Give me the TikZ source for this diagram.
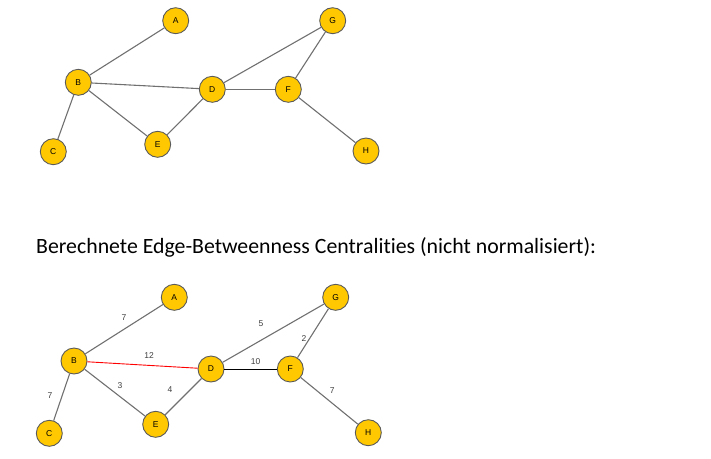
\documentclass[tikz,border=0pt]{standalone}
\usepackage{fontspec}
\setmainfont{Carlito}[Ligatures={NoCommon}]
\newfontfamily\arialfont{Liberation Sans}
\definecolor{nodefill}{HTML}{FFC800}
\definecolor{nodeline}{HTML}{5A5A5A}
\definecolor{edgegray}{HTML}{707070}
\definecolor{labgray}{HTML}{404040}
\begin{document}
\begin{tikzpicture}[x=1pt,y=-1pt,
  vtx/.style={circle,draw=nodeline,line width=0.9pt,fill=nodefill,minimum size=26pt,inner sep=0pt,font=\arialfont\fontsize{8.5}{8.5}\selectfont},
  edg/.style={draw=edgegray,line width=1.1pt},
  lab/.style={font=\arialfont\fontsize{8.5}{9}\selectfont,text=labgray,inner sep=0pt}]
\useasboundingbox (0,0) rectangle (711,458);
% top graph
\node[vtx] (A1) at (175.7,20.7) {A};
\node[vtx] (B1) at (78.3,82.3) {B};
\node[vtx] (C1) at (53.3,151.7) {C};
\node[vtx] (D1) at (212.3,89.3) {D};
\node[vtx] (E1) at (157.7,144.3) {E};
\node[vtx] (F1) at (288.3,89.3) {F};
\node[vtx] (G1) at (332.7,20.7) {G};
\node[vtx] (H1) at (366,151) {H};
\draw[edg] (B1) -- (A1);
\draw[edg] (B1) -- (C1);
\draw[edg] (B1) -- (D1);
\draw[edg] (B1) -- (E1);
\draw[edg] (E1) -- (D1);
\draw[edg] (D1) -- (F1);
\draw[edg] (D1) -- (G1);
\draw[edg] (F1) -- (G1);
\draw[edg] (F1) -- (H1);
% title
\node[anchor=base west,inner sep=0pt,font=\fontsize{21.8}{25}\selectfont] (T) at (36,253) {Berechnete Edge-Betweenness Centralities (nicht normalisiert):};
% bottom graph
\node[vtx] (A2) at (174.3,297.3) {A};
\node[vtx] (B2) at (74,361) {B};
\node[vtx] (C2) at (49.3,433.3) {C};
\node[vtx] (D2) at (211,369) {D};
\node[vtx] (E2) at (155.7,424.3) {E};
\node[vtx] (F2) at (290.3,369) {F};
\node[vtx] (G2) at (335.7,297.3) {G};
\node[vtx] (H2) at (368.3,432.7) {H};
\draw[edg] (B2) -- (A2);
\draw[edg] (B2) -- (C2);
\draw[draw=red,line width=0.9pt] (B2) -- (D2);
\draw[edg] (B2) -- (E2);
\draw[edg] (E2) -- (D2);
\draw[draw=black,line width=1pt] (D2) -- (F2);
\draw[edg] (D2) -- (G2);
\draw[edg] (F2) -- (G2);
\draw[edg] (F2) -- (H2);
\node[lab] (l1) at (124,317.3) {7};
\node[lab] (l2) at (149,355.3) {12};
\node[lab] (l3) at (261,323.3) {5};
\node[lab] (l4) at (304,338.3) {2};
\node[lab] (l5) at (255.7,361.7) {10};
\node[lab] (l6) at (120,385.3) {3};
\node[lab] (l7) at (170,390) {4};
\node[lab] (l8) at (50,396) {7};
\node[lab] (l9) at (332.3,391) {7};
\end{tikzpicture}
\end{document}
